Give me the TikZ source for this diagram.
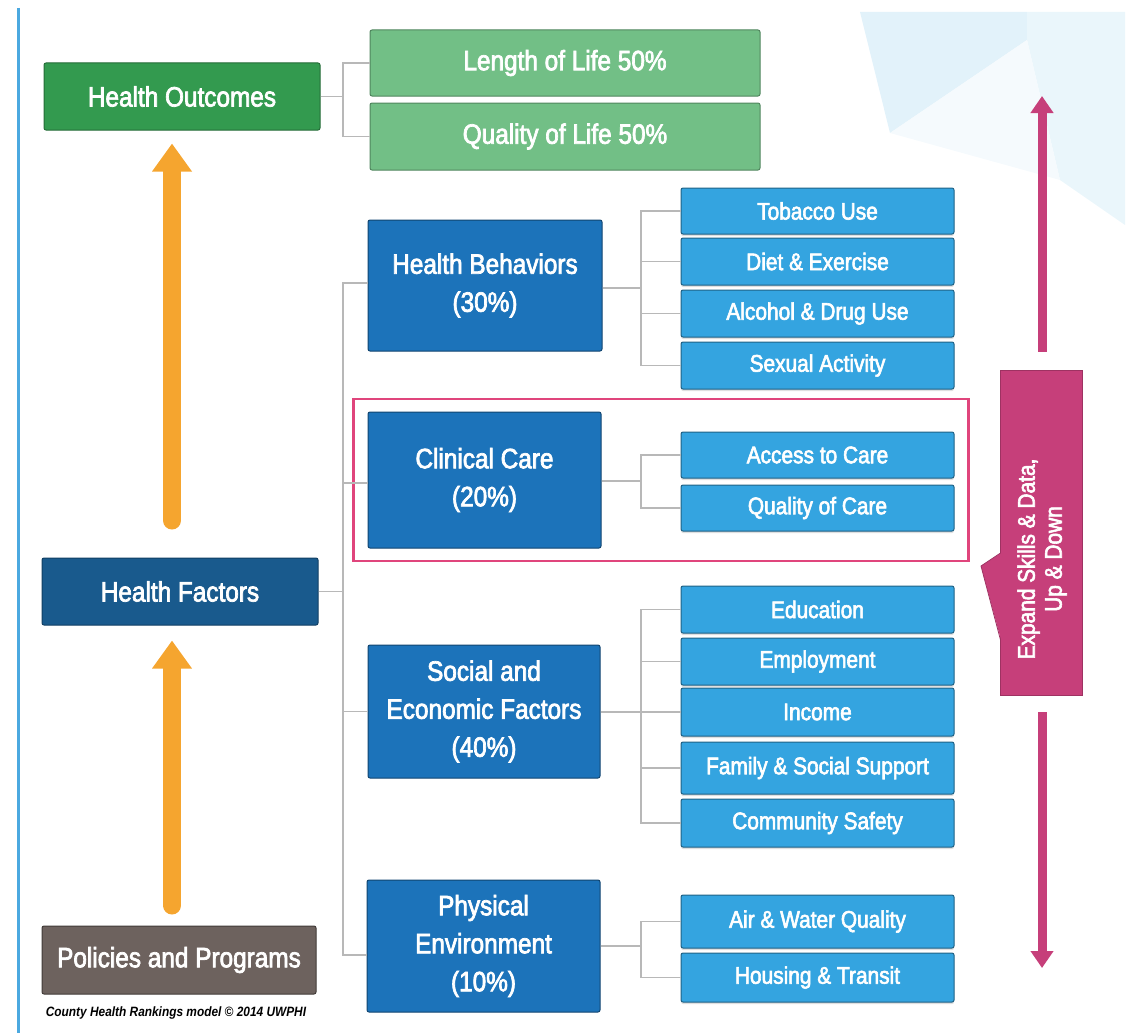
\documentclass[tikz,border=0pt]{standalone}
\usepackage{fontspec}
\setmainfont{Liberation Sans}[FakeStretch=0.88]
\newfontfamily\boxfont{Liberation Sans}[FakeStretch=0.87, FakeBold=2.5]
\usetikzlibrary{arrows.meta,fit,shadows}
\definecolor{hoGreen}{HTML}{339A4F}
\definecolor{lgGreen}{HTML}{72BF86}
\definecolor{hfBlue}{HTML}{195A8D}
\definecolor{catBlue}{HTML}{1C73BA}
\definecolor{itBlue}{HTML}{34A4E0}
\definecolor{ppGrey}{HTML}{6D625E}
\definecolor{oArrow}{HTML}{F5A52F}
\definecolor{magen}{HTML}{C63F7A}
\definecolor{pinkFr}{HTML}{E0457C}
\definecolor{lineBlue}{HTML}{4BA9E0}
\definecolor{connGrey}{HTML}{B8B8B8}
\definecolor{bgA}{HTML}{E2F2FA}
\definecolor{bgB}{HTML}{EAF6FB}
\tikzset{
  basebox/.style={rounded corners=2pt, line width=1pt, text=white, inner sep=0pt, align=center},
  bigfont/.style={font=\boxfont\fontsize{28}{38}\selectfont},
  hobox/.style={basebox, bigfont, fill=hoGreen, draw=hoGreen!70!black},
  lgbox/.style={basebox, bigfont, fill=lgGreen, draw=lgGreen!70!black, minimum width=390pt},
  hfbox/.style={basebox, bigfont, fill=hfBlue, draw=hfBlue!70!black},
  ppbox/.style={basebox, bigfont, fill=ppGrey, draw=ppGrey!60!black},
  catbox/.style={basebox, bigfont, fill=catBlue, draw=catBlue!60!black},
  itembox/.style={basebox, font=\boxfont\fontsize{24}{28}\selectfont, fill=itBlue, draw=itBlue!60!black,
     minimum width=273pt, drop shadow={shadow xshift=0pt, shadow yshift=-2pt, opacity=0.25}},
  conn/.style={draw=connGrey, line width=1.5pt},
  oarrow/.style={draw=oArrow, line width=18pt, line cap=round, -{Triangle[width=38pt,length=28pt]}},
  marrow/.style={draw=magen, line width=9pt, -{Triangle[width=22pt,length=17pt]}},
}
\begin{document}
\begin{tikzpicture}[x=1pt,y=-1pt]
\useasboundingbox (0,0) rectangle (1129,1033);
% background decoration
\fill[bgA] (860,12) -- (1027,12) -- (1027,40) -- (890,133) -- cycle;
\fill[bgB] (1027,12) -- (1125,12) -- (1125,225) -- (1060,180) -- (1027,40) -- cycle;
\fill[bgB!50] (890,133) -- (1027,40) -- (1060,180) -- cycle;
% left line
\draw[lineBlue, line width=3pt] (18,8) -- (18,1033);

% left column
\node[hobox, minimum width=276pt, minimum height=67pt] (ho) at (182,96.5) {Health Outcomes};
\node[hfbox, minimum width=276pt, minimum height=67pt] (hf) at (180,591.5) {Health Factors};
\node[ppbox, minimum width=274pt, minimum height=68pt] (pp) at (179,960) {Policies and Programs};
\node[font=\bfseries\itshape\fontsize{13.5}{16}\selectfont, inner sep=0pt] (cap) at (176,1013) {County Health Rankings model © 2014 UWPHI};

% outcomes
\node[lgbox, minimum height=66pt] (lol) at (565,63) {Length of Life 50\%};
\node[lgbox, minimum height=67pt] (qol) at (565,136.5) {Quality of Life 50\%};

% categories
\node[catbox, minimum width=234pt, minimum height=131pt] (hb) at (485,285.5) {Health Behaviors\\(30\%)};
\node[catbox, minimum width=233pt, minimum height=136pt] (cc) at (484.5,480) {Clinical Care\\(20\%)};
\node[catbox, minimum width=232pt, minimum height=133pt] (se) at (484,711.5) {Social and\\Economic Factors\\(40\%)};
\node[catbox, minimum width=233pt, minimum height=132pt] (pe) at (483.5,946) {Physical\\Environment\\(10\%)};

% items
\node[itembox, minimum height=46pt] (ty) at (817.5,211) {Tobacco Use};
\node[itembox, minimum height=47pt] (de) at (817.5,261.5) {Diet \& Exercise};
\node[itembox, minimum height=47pt] (ad) at (817.5,313.5) {Alcohol \& Drug Use};
\node[itembox, minimum height=47pt] (sa) at (817.5,365.5) {Sexual Activity};
\node[itembox, minimum height=46pt] (ac) at (817.5,455) {Access to Care};
\node[itembox, minimum height=46pt] (qc) at (817.5,508) {Quality of Care};
\node[itembox, minimum height=47pt] (ed) at (817.5,609.5) {Education};
\node[itembox, minimum height=47pt] (em) at (817.5,661.5) {Employment};
\node[itembox, minimum height=48pt] (in) at (817.5,712) {Income};
\node[itembox, minimum height=52pt] (fa) at (817.5,768) {Family \& Social Support};
\node[itembox, minimum height=48pt] (cs) at (817.5,823) {Community Safety};
\node[itembox, minimum height=53pt] (aw) at (817.5,921.5) {Air \& Water Quality};
\node[itembox, minimum height=49pt] (hu) at (817.5,977.5) {Housing \& Transit};

% pink frame
\node[draw=pinkFr, line width=2.5pt, inner xsep=14pt, inner ysep=12.5pt, fit=(cc)(ac)(qc)] (frame) {};

% connectors
\coordinate (hoJ) at (343,96.5);
\draw[conn] (ho.east) -- (hoJ);
\draw[conn] (lol.west) -| (hoJ) |- (qol.west);

\coordinate (sp) at (343,591.5);
\draw[conn] (hf.east) -- (sp);
\draw[conn] (sp) |- ([yshift=2.5pt]hb.west);
\draw[conn] (sp) |- ([yshift=-3pt]cc.west);
\draw[conn] (sp) |- (se.west);
\draw[conn] (sp) |- ([yshift=-9pt]pe.west);

\coordinate (hbJ) at (641,288);
\draw[conn] (hbJ -| hb.east) -- (hbJ);
\foreach \n in {ty,de,ad,sa} \draw[conn] (hbJ) |- (\n.west);
\coordinate (ccJ) at (641,481);
\draw[conn] (ccJ -| cc.east) -- (ccJ);
\foreach \n in {ac,qc} \draw[conn] (ccJ) |- (\n.west);
\coordinate (seJ) at (641,712);
\draw[conn] (seJ -| se.east) -- (seJ);
\foreach \n in {ed,em,in,fa,cs} \draw[conn] (seJ) |- (\n.west);
\coordinate (peJ) at (641,946);
\draw[conn] (peJ -| pe.east) -- (peJ);
\foreach \n in {aw,hu} \draw[conn] (peJ) |- (\n.west);

% orange arrows
\draw[oarrow, shorten <=37pt, shorten >=13pt] (172,0 |- hf.north) -- (172,0 |- ho.south);
\draw[oarrow, shorten <=20pt, shorten >=15pt] (172,0 |- pp.north) -- (172,0 |- hf.south);

% callout
\node[fill=magen, draw=magen!80!black, line width=0.8pt, minimum width=82pt, minimum height=325pt, inner sep=0pt] (ex) at (1041,532.5) {};
\fill[magen] (1001,553) -- (981,566) -- (1001,640) -- cycle;
\draw[magen!80!black, line width=0.8pt] (1000.5,553) -- (981,566) -- (1000.5,640);
\node[rotate=90, text=white, align=center, font=\boxfont\fontsize{24}{27}\selectfont] (extext) at (1042,559) {Expand Skills \& Data,\\Up \& Down};
\coordinate (mTop) at (1042,96);
\coordinate (mBot) at (1042,968);
\draw[marrow, shorten <=18pt] (1042,0 |- ex.north) -- (mTop);
\draw[marrow, shorten <=17pt] (1042,0 |- ex.south) -- (mBot);
\end{tikzpicture}
\end{document}
